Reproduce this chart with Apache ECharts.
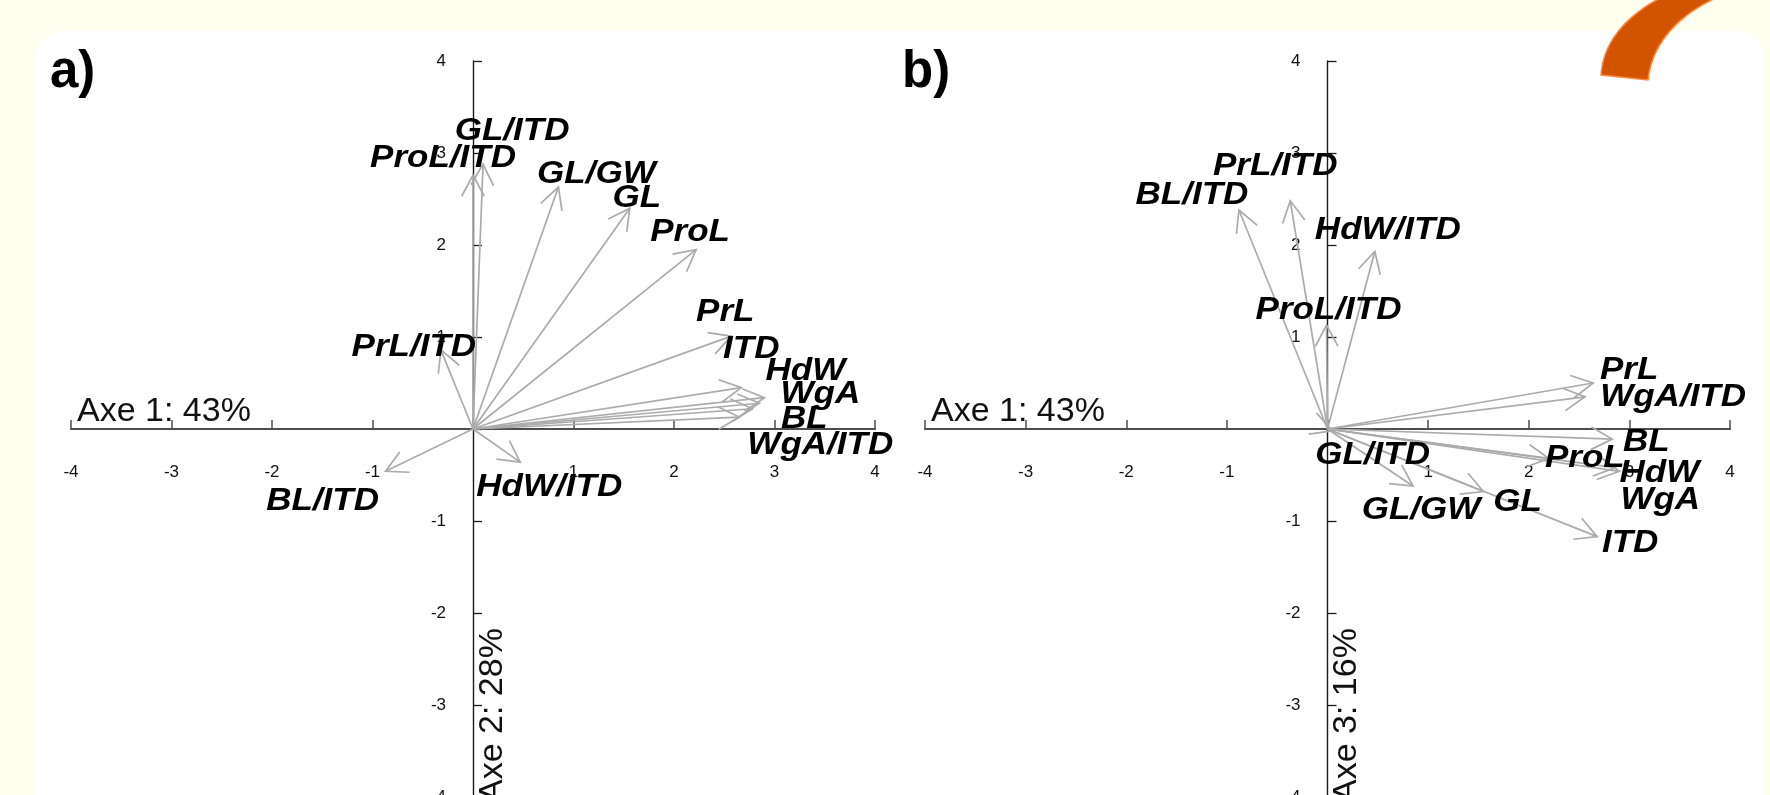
<!DOCTYPE html>
<html>
<head>
<meta charset="utf-8">
<script src="https://cdn.jsdelivr.net/npm/echarts@6/dist/echarts.min.js"></script>
<style>
html,body{margin:0;padding:0;background:#FFFFF0;}
#c{width:1770px;height:795px;}
</style>
</head>
<body>
<div id="c"></div>
<script>
// ---------------- DATA ----------------
const variables = ['GL/ITD','ProL/ITD','GL/GW','GL','ProL','PrL','ITD','HdW','WgA','BL','WgA/ITD','PrL/ITD','BL/ITD','HdW/ITD'];
// panel a) : Axe 1 (x) vs Axe 2 (y)
const axe1A = [0.10, 0.00, 0.85, 1.56, 2.22, 2.57, 2.67, 2.90, 2.85, 2.78, 2.65, -0.32, -0.87, 0.47];
const axe2A = [2.88, 2.76, 2.63, 2.40, 1.95, 1.01, 0.45, 0.34, 0.28, 0.22, 0.13, 0.86, -0.46, -0.36];
// panel b) : Axe 1 (x) vs Axe 3 (y)
const axe1B = [0.05, -0.01, 0.85, 1.55, 2.20, 2.64, 2.68, 2.90, 2.86, 2.83, 2.56, -0.37, -0.88, 0.47];
const axe3B = [-0.02, 1.13, -0.62, -0.68, -0.32, 0.50, -1.17, -0.46, -0.42, -0.11, 0.35, 2.48, 2.38, 1.93];
const tickValues = [-4, -3, -2, -1, 0, 1, 2, 3, 4];
const panelTitles = ['a)', 'b)'];
const xAxisTitles = ['Axe 1: 43%', 'Axe 1: 43%'];
const yAxisTitles = ['Axe 2: 28%', 'Axe 3: 16%'];

// ---------------- LAYOUT / STYLE ----------------
const FONT = "'Liberation Sans', Arial, Helvetica, sans-serif";
const ARROW_COLOR = '#ababab';
const HEAD_LEN = 24, HEAD_ANG = 28 * Math.PI / 180;
const LABEL_SIZE = 31, LABEL_SCALE_X = 1.13;
const GRID_TOP = 61, GRID_H = 736;
const panels = [{left: 71, width: 804}, {left: 925, width: 805}];
// label offsets (px) from arrow tip to label centre
const labelOffsetA = {
  'GL/ITD': [29, -33], 'ProL/ITD': [-30, -17], 'GL/GW': [38, -13], 'GL': [7, -10],
  'ProL': [-6, -17], 'PrL': [-6, -24], 'ITD': [10, -38], 'HdW': [41, -26],
  'WgA': [61, -9], 'BL': [52, 11], 'WgA/ITD': [81, 28], 'PrL/ITD': [-27, -2],
  'BL/ITD': [-63, 30], 'HdW/ITD': [29, 25]
};
const labelOffsetB = {
  'GL/ITD': [40, 25], 'ProL/ITD': [2, -15], 'GL/GW': [8, 24], 'GL': [34, 11],
  'ProL': [36, 0], 'PrL': [36, -13], 'ITD': [33, 7], 'HdW': [40, 2],
  'WgA': [45, 33], 'BL': [34, 3], 'WgA/ITD': [88, 1], 'PrL/ITD': [-15, -34],
  'BL/ITD': [-47, -15], 'HdW/ITD': [13, -21]
};

const chart = echarts.init(document.getElementById('c'), null, {renderer: 'canvas'});

function tickFmt(v) { return v === 0 ? '' : String(v); }

function makeX(i) {
  return {
    type: 'value', gridIndex: i, position: 'bottom', offset: -GRID_H / 2,
    min: tickValues[0], max: tickValues[tickValues.length - 1], interval: 1,
    axisLine: {show: true, onZero: false, lineStyle: {color: '#4d4d4d', width: 2.2}},
    axisTick: {show: true, inside: true, length: 9, lineStyle: {color: '#4d4d4d', width: 1.5}},
    axisLabel: {show: true, margin: 35, fontSize: 17, color: '#111', fontFamily: FONT, formatter: tickFmt},
    splitLine: {show: false}
  };
}
function makeY(i) {
  return {
    type: 'value', gridIndex: i, position: 'left', offset: -panels[i].width / 2,
    min: tickValues[0], max: tickValues[tickValues.length - 1], interval: 1,
    axisLine: {show: true, onZero: false, lineStyle: {color: '#1a1a1a', width: 1.4}},
    axisTick: {show: true, inside: true, length: 9, lineStyle: {color: '#1a1a1a', width: 1.3}},
    axisLabel: {show: true, margin: 27, fontSize: 17, color: '#111', fontFamily: FONT, formatter: tickFmt},
    splitLine: {show: false}
  };
}

function arrowSeries(i, xs, ys) {
  return {
    type: 'custom', coordinateSystem: 'cartesian2d', xAxisIndex: i, yAxisIndex: i,
    data: xs.map((x, k) => [x, ys[k]]), encode: {x: 0, y: 1},
    clip: false, silent: true, z: 3, animation: false,
    renderItem: function (params, api) {
      const o = api.coord([0, 0]);
      const p = api.coord([api.value(0), api.value(1)]);
      const ang = Math.atan2(p[1] - o[1], p[0] - o[0]);
      const b1 = [p[0] - HEAD_LEN * Math.cos(ang - HEAD_ANG), p[1] - HEAD_LEN * Math.sin(ang - HEAD_ANG)];
      const b2 = [p[0] - HEAD_LEN * Math.cos(ang + HEAD_ANG), p[1] - HEAD_LEN * Math.sin(ang + HEAD_ANG)];
      return {type: 'group', children: [
        {type: 'line', shape: {x1: o[0], y1: o[1], x2: p[0], y2: p[1]}, style: {stroke: ARROW_COLOR, lineWidth: 1.7}},
        {type: 'polyline', shape: {points: [b1, p, b2]}, style: {stroke: ARROW_COLOR, lineWidth: 1.7, fill: null}}
      ]};
    }
  };
}
function labelSeries(i, xs, ys, offsets) {
  return {
    type: 'custom', coordinateSystem: 'cartesian2d', xAxisIndex: i, yAxisIndex: i,
    data: xs.map((x, k) => [x, ys[k]]), encode: {x: 0, y: 1},
    clip: false, silent: true, z: 5, animation: false,
    renderItem: function (params, api) {
      const name = variables[params.dataIndex];
      const p = api.coord([api.value(0), api.value(1)]);
      const off = offsets[name];
      return {
        type: 'text', x: p[0] + off[0], y: p[1] + off[1], scaleX: LABEL_SCALE_X,
        style: {text: name, fill: '#000', fontSize: LABEL_SIZE, fontWeight: 'bold', fontStyle: 'italic',
                fontFamily: FONT, align: 'center', verticalAlign: 'middle'}
      };
    }
  };
}

// orange decorative arc (top right)
function bez(p0, p1, p2, p3, n) {
  const out = [];
  for (let k = 0; k <= n; k++) {
    const t = k / n, u = 1 - t;
    out.push([u*u*u*p0[0] + 3*u*u*t*p1[0] + 3*u*t*t*p2[0] + t*t*t*p3[0],
              u*u*u*p0[1] + 3*u*u*t*p1[1] + 3*u*t*t*p2[1] + t*t*t*p3[1]]);
  }
  return out;
}
const arcPts = bez([1601, 75], [1603, 45], [1622, 18], [1662, -3], 30)
  .concat(bez([1718, -3], [1680, 14], [1652, 42], [1648, 80], 30));

const graphics = [
  {type: 'rect', silent: true, z: -10, shape: {x: 35, y: 31, width: 1729, height: 900, r: 28}, style: {fill: '#ffffff'}},
  {type: 'polygon', silent: true, z: 100, shape: {points: arcPts}, style: {fill: '#D35400', stroke: '#FF8A3D', lineWidth: 1.5}}
];
panels.forEach((pn, i) => {
  const x0 = pn.left + pn.width / 2;            // x of value 0
  const yBottom = GRID_TOP + GRID_H;             // y of value -4
  const yZero = GRID_TOP + GRID_H / 2;           // y of value 0
  graphics.push({type: 'text', silent: true, z: 10, x: i === 0 ? 50 : 902, y: 73,
    style: {text: panelTitles[i], fill: '#000', font: 'bold 51px ' + FONT, align: 'left', verticalAlign: 'middle'}});
  graphics.push({type: 'text', silent: true, z: 10, x: pn.left + 6, y: yZero,
    style: {text: xAxisTitles[i], fill: '#111', font: '34px ' + FONT, align: 'left', verticalAlign: 'bottom'}});
  graphics.push({type: 'text', silent: true, z: 10, x: x0 + 2.5, y: yBottom + 5, rotation: Math.PI / 2,
    style: {text: yAxisTitles[i], fill: '#111', font: '34px ' + FONT, align: 'left', verticalAlign: 'top'}});
});

chart.setOption({
  backgroundColor: '#FFFFF0',
  animation: false,
  grid: panels.map(pn => ({left: pn.left, width: pn.width, top: GRID_TOP, height: GRID_H, containLabel: false, outerBoundsMode: 'none'})),
  xAxis: [makeX(0), makeX(1)],
  yAxis: [makeY(0), makeY(1)],
  series: [
    arrowSeries(0, axe1A, axe2A), arrowSeries(1, axe1B, axe3B),
    labelSeries(0, axe1A, axe2A, labelOffsetA), labelSeries(1, axe1B, axe3B, labelOffsetB)
  ],
  graphic: {elements: graphics}
});
</script>
</body>
</html>
